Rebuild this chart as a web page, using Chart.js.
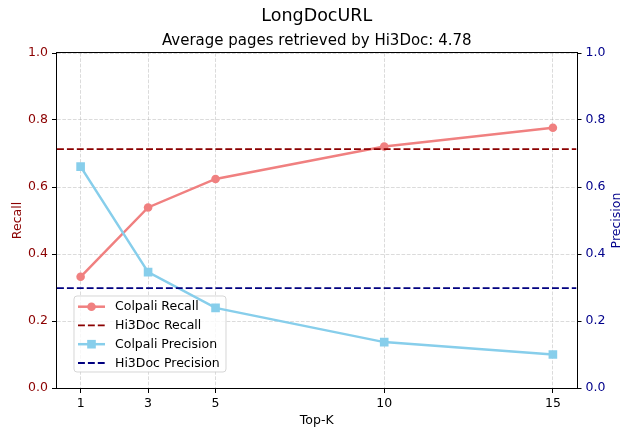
<!DOCTYPE html>
<html><head><meta charset="utf-8">
<script src="https://cdn.jsdelivr.net/npm/chart.js@4.4.1/dist/chart.umd.min.js"></script>
<style>html,body{margin:0;padding:0;background:#fff;} #wrap{width:621px;height:429px;position:relative}</style>
</head><body><div id="wrap"><canvas id="c" width="621" height="429"></canvas></div>
<script>
const topK = [1, 3, 5, 10, 15];
const colpaliRecall = [0.332, 0.539, 0.624, 0.721, 0.777];
const colpaliPrecision = [0.661, 0.346, 0.239, 0.137, 0.100];
const hi3docRecall = 0.713;
const hi3docPrecision = 0.298;
const yTicks = [0, 0.2, 0.4, 0.6, 0.8, 1.0];
const chartTitle = 'LongDocURL';
const chartSubtitle = 'Average pages retrieved by Hi3Doc: 4.78';
const xTitle = 'Top-K';
const yTitle = 'Recall';
const y1Title = 'Precision';
const seriesNames = ['Colpali Recall', 'Hi3Doc Recall', 'Colpali Precision', 'Hi3Doc Precision'];
const X_MIN = 0.3, X_MAX = 15.7;

const FONT = '"DejaVu Sans", "Liberation Sans", sans-serif';
const C_RECALL = '#F08080', C_HREC = '#8B0000', C_PREC = '#87CEEB', C_HPREC = '#000080';
const TICK_FONT = {family: FONT, size: 12.5};
const GRID_COLOR = 'rgba(176,176,176,0.45)';

function pts(xs, ys) { return xs.map((x, i) => ({x: x, y: ys[i]})); }
function hline(v) { return [{x: X_MIN, y: v}, {x: X_MAX, y: v}]; }

const styles = [
  {color: C_RECALL, dash: [], marker: 'circle', r: 4.3, lw: 2.5},
  {color: C_HREC, dash: [6.9, 3], marker: null, lw: 1.9},
  {color: C_PREC, dash: [], marker: 'rect', r: 6.1, lw: 2.5},
  {color: C_HPREC, dash: [6.9, 3], marker: null, lw: 1.9}
];

const deco = {
  id: 'deco',
  beforeDatasetDraw(chart, args) {
    if (args.index !== 2) return;
    const ctx = chart.ctx;
    ctx.save();
    const bx = 74, by = 296, bw = 152, bh = 76, rr = 3;
    ctx.beginPath();
    ctx.moveTo(bx + rr, by);
    ctx.arcTo(bx + bw, by, bx + bw, by + bh, rr);
    ctx.arcTo(bx + bw, by + bh, bx, by + bh, rr);
    ctx.arcTo(bx, by + bh, bx, by, rr);
    ctx.arcTo(bx, by, bx + bw, by, rr);
    ctx.closePath();
    ctx.fillStyle = 'rgba(255,255,255,0.8)';
    ctx.fill();
    ctx.strokeStyle = 'rgba(204,204,204,0.8)';
    ctx.lineWidth = 1;
    ctx.stroke();
    const rows = [306.7, 325.4, 344.2, 363];
    ctx.font = '12.5px ' + FONT;
    ctx.textAlign = 'left';
    ctx.textBaseline = 'middle';
    seriesNames.forEach((name, i) => {
      const s = styles[i], y = rows[i];
      ctx.strokeStyle = s.color;
      ctx.lineWidth = s.lw;
      ctx.setLineDash(s.dash);
      ctx.beginPath(); ctx.moveTo(78, y); ctx.lineTo(105, y); ctx.stroke();
      ctx.setLineDash([]);
      ctx.fillStyle = s.color;
      if (s.marker === 'circle') { ctx.beginPath(); ctx.arc(91.5, y, s.r, 0, Math.PI * 2); ctx.fill(); }
      if (s.marker === 'rect') { const h = s.r * Math.SQRT1_2; ctx.fillRect(91.5 - h, y - h, 2 * h, 2 * h); }
      ctx.fillStyle = '#000';
      ctx.fillText(name, 115, y + 0.5);
    });
    ctx.restore();
  },
  afterDraw(chart) {
    const ctx = chart.ctx, a = chart.chartArea;
    ctx.save();
    ctx.strokeStyle = '#000';
    ctx.lineWidth = 1;
    ctx.strokeRect(Math.round(a.left) - 0.5, Math.round(a.top) - 0.5, Math.round(a.right - a.left) + 1, Math.round(a.bottom - a.top) + 1);
    const cx = (a.left + a.right) / 2;
    ctx.textAlign = 'center';
    ctx.textBaseline = 'alphabetic';
    ctx.fillStyle = '#000';
    ctx.font = '17.5px ' + FONT;
    ctx.fillText(chartTitle, cx, 20.8);
    ctx.font = '15px ' + FONT;
    ctx.fillText(chartSubtitle, cx, 45);
    ctx.font = '12.5px ' + FONT;
    ctx.fillText(xTitle, cx, 423.5);
    const cy = (a.top + a.bottom) / 2;
    ctx.save();
    ctx.translate(20.7, cy); ctx.rotate(-Math.PI / 2);
    ctx.fillStyle = C_HREC; ctx.fillText(yTitle, 0, 0);
    ctx.restore();
    ctx.save();
    ctx.translate(620, cy); ctx.rotate(-Math.PI / 2);
    ctx.fillStyle = '#00008B'; ctx.fillText(y1Title, 0, 0);
    ctx.restore();
    ctx.restore();
  }
};

function ds(label, data, i, axis, order) {
  const s = styles[i];
  return {
    label: label, data: data, yAxisID: axis, order: order,
    borderColor: s.color, backgroundColor: s.color, borderWidth: s.lw,
    borderDash: s.dash, tension: 0, fill: false,
    pointStyle: s.marker || false, pointRadius: s.marker ? s.r : 0,
    pointBorderWidth: 0, pointBackgroundColor: s.color, pointBorderColor: s.color,
    pointHoverRadius: s.marker ? s.r : 0
  };
}

new Chart(document.getElementById('c'), {
  type: 'line',
  data: {
    datasets: [
      ds(seriesNames[0], pts(topK, colpaliRecall), 0, 'y', 3),
      ds(seriesNames[1], hline(hi3docRecall), 1, 'y', 2),
      ds(seriesNames[2], pts(topK, colpaliPrecision), 2, 'y1', 1),
      ds(seriesNames[3], hline(hi3docPrecision), 3, 'y1', 0)
    ]
  },
  options: {
    responsive: false, animation: false, devicePixelRatio: 1,
    layout: {padding: {top: 53, left: 0, right: 0, bottom: 0}},
    plugins: {legend: {display: false}, tooltip: {enabled: false}, title: {display: false}},
    scales: {
      x: {
        type: 'linear', min: X_MIN, max: X_MAX,
        afterBuildTicks: s => { s.ticks = topK.map(v => ({value: v})); },
        afterFit: s => { s.height = 41; },
        ticks: {color: '#000', font: TICK_FONT, padding: 3, autoSkip: false, maxRotation: 0, callback: v => String(v)},
        grid: {color: GRID_COLOR, lineWidth: 1, tickColor: '#000', tickLength: 5, tickWidth: 1},
        border: {display: false, dash: [3.7, 1.6]}
      },
      y: {
        position: 'left', min: 0, max: 1,
        afterBuildTicks: s => { s.ticks = yTicks.map(v => ({value: v})); },
        afterFit: s => { s.width = 57; },
        ticks: {color: C_HREC, font: TICK_FONT, padding: 4, callback: v => Number(v).toFixed(1)},
        grid: {color: GRID_COLOR, lineWidth: 1, tickColor: '#000', tickLength: 5, tickWidth: 1},
        border: {display: false, dash: [3.7, 1.6]}
      },
      y1: {
        position: 'right', min: 0, max: 1,
        afterBuildTicks: s => { s.ticks = yTicks.map(v => ({value: v})); },
        afterFit: s => { s.width = 44.5; },
        ticks: {color: '#00008B', font: TICK_FONT, padding: 4, callback: v => Number(v).toFixed(1)},
        grid: {drawOnChartArea: false, tickColor: '#000', tickLength: 5, tickWidth: 1},
        border: {display: false}
      }
    }
  },
  plugins: [deco]
});
</script></body></html>
